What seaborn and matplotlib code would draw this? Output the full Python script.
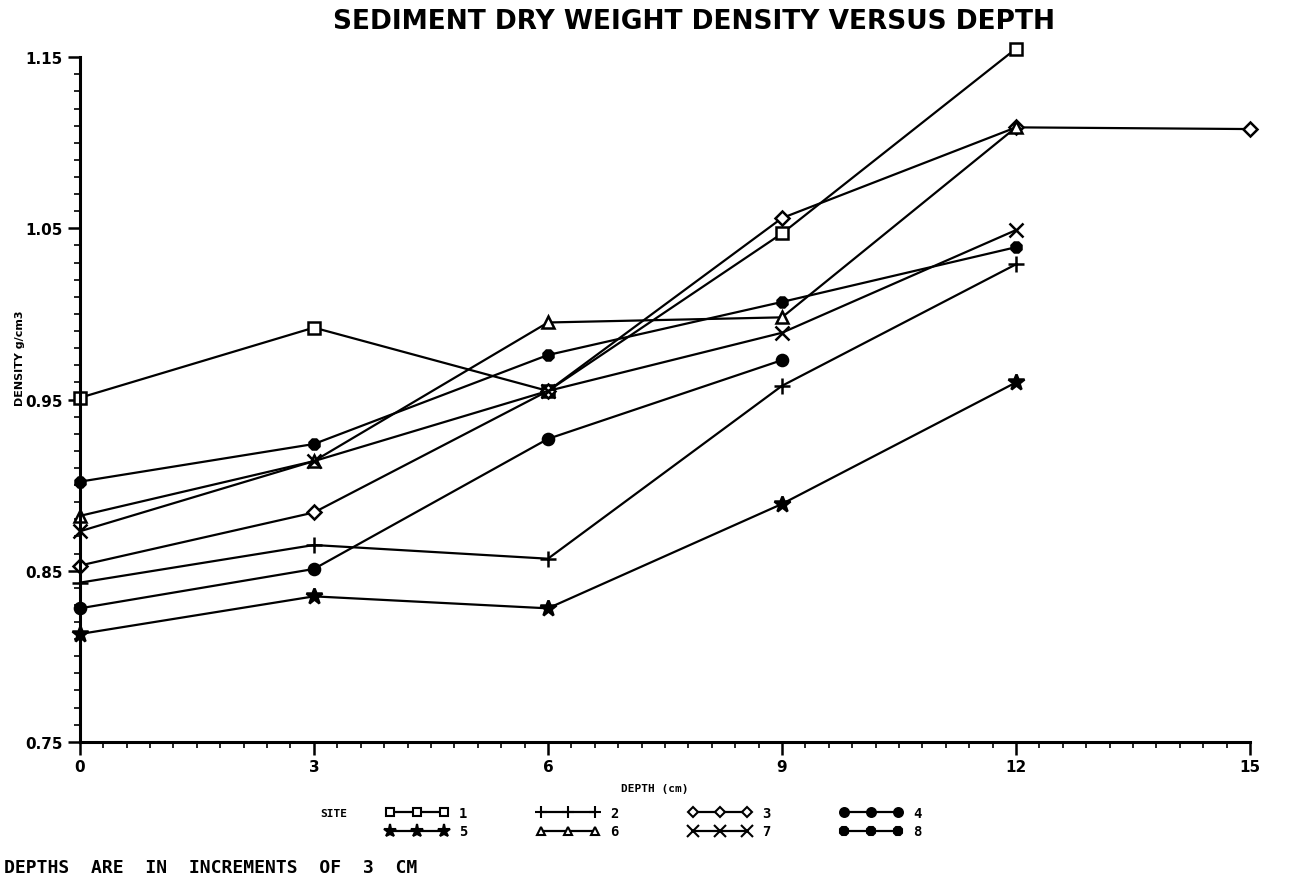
import seaborn as sns
import matplotlib.pyplot as plt
import matplotlib.ticker as mticker
from matplotlib.lines import Line2D
import pandas as pd

sns.set_style('white')
plt.rcParams['font.family'] = ['DejaVu Sans']
plt.rcParams['text.color'] = 'black'

# Values (depth in cm, dry weight density g/cm3)
depths = [0, 3, 6, 9, 12, 15]
site1 = [0.951, 0.992, 0.955, 1.047, 1.155]
site2 = [0.843, 0.865, 0.857, 0.958, 1.029]
site3 = [0.853, 0.884, 0.955, 1.056, 1.109, 1.108]
site4 = [0.828, 0.851, 0.927, 0.973]
site5 = [0.813, 0.835, 0.828, 0.889, 0.960]
site6 = [0.882, 0.914, 0.995, 0.998, 1.109]
site7 = [0.873, 0.914, 0.955, 0.989, 1.049]
site8 = [0.902, 0.924, 0.976, 1.007, 1.039]

sites = ['1', '2', '3', '4', '5', '6', '7', '8']
series = [site1, site2, site3, site4, site5, site6, site7, site8]

rows = []
for name, vals in zip(sites, series):
    for d, v in zip(depths, vals):
        rows.append({'site': name, 'depth': d, 'density': v})
df = pd.DataFrame(rows)

# marker, size, filled
styles = {
    '1': ('s', 8, False),
    '2': ('+', 11, True),
    '3': ('D', 7, False),
    '4': ('o', 8, True),
    '5': ('*', 12, True),
    '6': ('^', 8, False),
    '7': ('x', 10, True),
    '8': ('8', 8, True),
}

fig = plt.figure(figsize=(13.09, 8.95), dpi=100)
ax = fig.add_axes([0.061, 0.17, 0.894, 0.765])

for name in sites:
    m, ms, filled = styles[name]
    sub = df[df['site'] == name]
    sns.lineplot(data=sub, x='depth', y='density', ax=ax, color='black',
                 linewidth=1.6, marker=m, markersize=ms,
                 markerfacecolor='black' if filled else 'white',
                 markeredgecolor='black', markeredgewidth=1.8,
                 sort=False, legend=False, clip_on=False)

ax.set_xlim(0, 15)
ax.set_ylim(0.75, 1.15)
ax.xaxis.set_major_locator(mticker.MultipleLocator(3))
ax.xaxis.set_minor_locator(mticker.MultipleLocator(0.3))
ax.set_yticks([0.75, 0.85, 0.95, 1.05, 1.15])
ax.yaxis.set_minor_locator(mticker.MultipleLocator(0.01))
ax.yaxis.set_major_formatter(mticker.FormatStrFormatter('%.2f'))
ax.tick_params(which='both', bottom=True, left=True, direction='out',
               color='black', labelcolor='black')
ax.tick_params(which='major', length=9, width=1.8, labelsize=11)
ax.tick_params(which='minor', length=4, width=1.2)
for lab in ax.get_xticklabels() + ax.get_yticklabels():
    lab.set_fontweight('bold')

sns.despine(ax=ax)
ax.spines['left'].set_linewidth(2.2)
ax.spines['bottom'].set_linewidth(2.2)
ax.spines['left'].set_color('black')
ax.spines['bottom'].set_color('black')
ax.set_xlabel('')
ax.set_ylabel('')

fig.text(0.015, 0.6, 'DENSITY g/cm3', rotation=90, ha='center', va='center',
         fontsize=8, fontweight='bold')
fig.text(0.53, 0.975, 'SEDIMENT DRY WEIGHT DENSITY VERSUS DEPTH', ha='center',
         va='center', fontsize=19, fontweight='bold')
fig.text(0.5, 0.118, 'DEPTH (cm)', ha='center', va='center', fontsize=8,
         fontweight='bold', family='DejaVu Sans Mono')

# legend: SITE  1/5  2/6  3/7  4/8
order = ['1', '5', '2', '6', '3', '7', '4', '8']
handles = []
for name in order:
    m, ms, filled = styles[name]
    handles.append(Line2D([], [], color='black', linewidth=1.6, marker=m,
                          markersize=ms * 0.8,
                          markerfacecolor='black' if filled else 'white',
                          markeredgecolor='black', markeredgewidth=1.5))
fig.text(0.255, 0.09, 'SITE', ha='center', va='center', fontsize=8,
         fontweight='bold', family='DejaVu Sans Mono')
leg = fig.legend(handles, order, ncol=4, loc='center left',
                 bbox_to_anchor=(0.285, 0.08), frameon=False, numpoints=3,
                 handlelength=4.5, columnspacing=5, labelspacing=0.3,
                 prop={'family': 'DejaVu Sans Mono', 'weight': 'bold',
                       'size': 10})
for t in leg.get_texts():
    t.set_color('black')

fig.text(0.003, 0.03, 'DEPTHS  ARE  IN  INCREMENTS  OF  3  CM', ha='left',
         va='center', fontsize=13, fontweight='bold', family='DejaVu Sans Mono')

plt.savefig('out.png', dpi=100)
plt.close()
